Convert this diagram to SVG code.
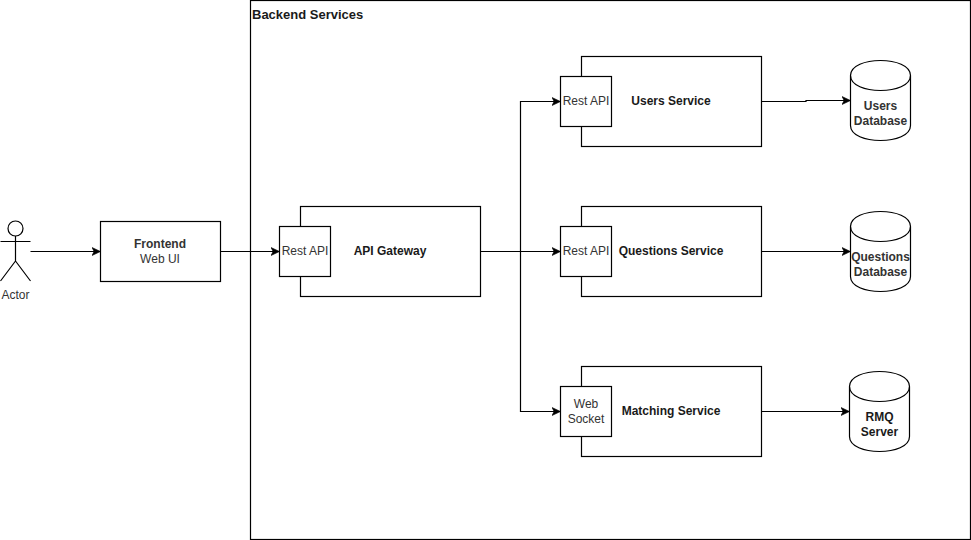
<svg xmlns="http://www.w3.org/2000/svg" width="971" height="540" viewBox="0 0 971 540">
<style>
.s{fill:#fff;stroke:#000;stroke-width:1.2}
.l{fill:none;stroke:#000;stroke-width:1.2}
text{font-family:"Liberation Sans",Arial,sans-serif;font-size:12px;fill:#1a1a1a;text-anchor:middle}
.b{font-weight:bold}
.g{fill:#333}
</style>
<defs>
<marker id="a" markerUnits="userSpaceOnUse" markerWidth="10" markerHeight="10" refX="9" refY="5" orient="auto"><path d="M0.5 1 L9 5 L0.5 9 L2.6 5 Z" fill="#000" stroke="#000" stroke-width="0.6"/></marker>
<g id="db"><path class="s" d="M0 15 C0 -5 60 -5 60 15 V65 C60 85 0 85 0 65 Z"/><path class="l" d="M0 15 C0 35 60 35 60 15"/></g>
</defs>
<rect width="971" height="540" fill="#fff"/>
<g id="backend"><rect class="s" x="250.500" y="0.500" width="720" height="539"/><text class="b" x="252" y="19" style="text-anchor:start;font-size:13px">Backend Services</text></g>
<g id="connectors">
<path class="l" marker-end="url(#a)" d="M30.500 251.500 H100.500"/>
<path class="l" marker-end="url(#a)" d="M220.500 251.500 H279.500"/>
<path class="l" marker-end="url(#a)" d="M480.500 251.500 H560.500"/>
<path class="l" marker-end="url(#a)" d="M520.500 251.500 V101.500 H560.500"/>
<path class="l" marker-end="url(#a)" d="M520.500 251.500 V411.500 H560.500"/>
<path class="l" marker-end="url(#a)" d="M761.500 101.500 H806 V100.500 H850.500"/>
<path class="l" marker-end="url(#a)" d="M761.500 251.500 H850.500"/>
<path class="l" marker-end="url(#a)" d="M761.500 411.500 H849.500"/>
</g>
<g id="actor">
<circle class="s" cx="15.500" cy="228.500" r="7.500"/>
<path class="l" d="M15.500 236 V261 M0.500 241.500 H30.500 M15.500 261 L0.500 281 M15.500 261 L30.500 281"/>
<text class="g" x="15.500" y="299">Actor</text>
</g>
<g id="frontend"><rect class="s" x="100.500" y="221.500" width="120" height="60"/><text class="b g" x="160" y="248">Frontend</text><text class="g" x="160" y="263">Web UI</text></g>
<g id="api-gateway"><rect class="s" x="300.500" y="206.500" width="180" height="90"/><rect class="s" x="279.500" y="226.500" width="51" height="50"/><text class="g" x="305" y="255">Rest API</text><text class="b" x="390" y="255">API Gateway</text></g>
<g id="users-service"><rect class="s" x="581.500" y="56.500" width="180" height="90"/><rect class="s" x="560.500" y="76.500" width="51" height="50"/><text class="g" x="586" y="105">Rest API</text><text class="b" x="671" y="105">Users Service</text></g>
<g id="questions-service"><rect class="s" x="581.500" y="206.500" width="180" height="90"/><rect class="s" x="560.500" y="226.500" width="51" height="50"/><text class="g" x="586" y="255">Rest API</text><text class="b" x="671" y="255">Questions Service</text></g>
<g id="matching-service"><rect class="s" x="581.500" y="366.500" width="180" height="90"/><rect class="s" x="560.500" y="386.500" width="51" height="50"/><text class="g" x="586" y="408">Web</text><text class="g" x="586" y="423">Socket</text><text class="b" x="671" y="415">Matching Service</text></g>
<g id="users-db"><use href="#db" x="850.500" y="60.500"/><text class="b g" x="880.500" y="110">Users</text><text class="b g" x="880.500" y="125">Database</text></g>
<g id="questions-db"><use href="#db" x="850.500" y="211.500"/><text class="b g" x="880.500" y="261">Questions</text><text class="b g" x="880.500" y="276">Database</text></g>
<g id="rmq"><use href="#db" x="849.500" y="371.500"/><text class="b" x="879.500" y="421">RMQ</text><text class="b" x="879.500" y="436">Server</text></g>
</svg>
